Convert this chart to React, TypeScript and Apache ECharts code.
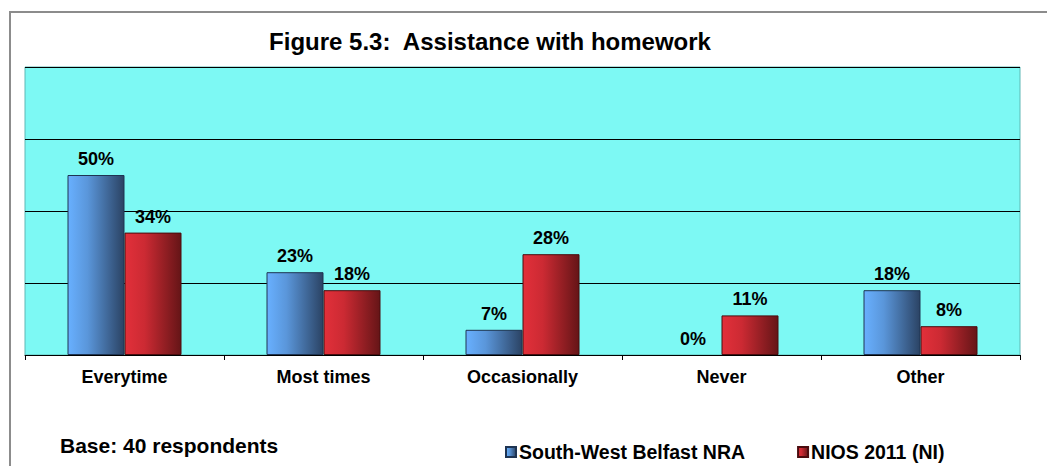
import React, { useEffect, useRef } from "react";
import * as echarts from "echarts";

const categories = ["Everytime", "Most times", "Occasionally", "Never", "Other"];
const swBelfast = [50, 23, 7, 0, 18];
const nios = [34, 18, 28, 11, 8];
const seriesNames = ["South-West Belfast NRA", "NIOS 2011 (NI)"];
const titleText = "Figure 5.3:  Assistance with homework";
const baseText = "Base: 40 respondents";

const FONT = "'Liberation Sans', Arial, sans-serif";

const toData = (arr: number[]) =>
  arr.map((v) => (v === 0 ? { value: v, itemStyle: { borderWidth: 0 } } : v));

export default function App() {
  const ref = useRef<HTMLDivElement>(null);
  useEffect(() => {
    document.body.style.margin = "0";
    const chart = echarts.init(ref.current!, null, { renderer: "svg" });
    const blue = new echarts.graphic.LinearGradient(0, 0, 1, 0, [
      { offset: 0, color: "#68B0FF" },
      { offset: 0.35, color: "#5A96DA" },
      { offset: 1, color: "#2B4364" },
    ]);
    const red = new echarts.graphic.LinearGradient(0, 0, 1, 0, [
      { offset: 0, color: "#E2303A" },
      { offset: 0.35, color: "#CC2A33" },
      { offset: 1, color: "#651517" },
    ]);
    const label = {
      show: true,
      position: "top" as const,
      distance: 7,
      formatter: "{c}%",
      fontFamily: FONT,
      fontWeight: "bold" as const,
      fontSize: 18,
      color: "#000",
    };
    chart.setOption({
      animation: false,
      backgroundColor: "#fff",
      title: {
        text: titleText,
        left: 490,
        textAlign: "center",
        top: 29,
        padding: 0,
        textStyle: { fontFamily: FONT, fontWeight: "bold", fontSize: 24, lineHeight: 24, color: "#000" },
      },
      graphic: [
        {
          type: "rect",
          shape: { x: 10, y: 12, width: 1100, height: 500 },
          style: { fill: "none", stroke: "#8C8C8C", lineWidth: 2 },
          z: -1,
        },
        {
          type: "text",
          left: 60,
          top: 435,
          style: { text: baseText, font: `bold 21px ${FONT}`, fill: "#000" },
        },
      ],
      legend: {
        left: 505,
        top: 442,
        padding: 0,
        itemWidth: 10,
        itemHeight: 10,
        itemGap: 52,
        icon: "rect",
        textStyle: { fontFamily: FONT, fontWeight: "bold", fontSize: 19.5, color: "#000", padding: [0, 0, 0, -2] },
        data: seriesNames,
      },
      grid: {
        left: 25,
        top: 67,
        width: 995,
        height: 288,
        show: true,
        backgroundColor: "#7DF9F4",
        borderColor: "#5FB8B5",
        borderWidth: 1,
      },
      xAxis: {
        type: "category",
        data: categories,
        axisLine: { lineStyle: { color: "#000", width: 1 } },
        axisTick: { show: true, length: 5, lineStyle: { color: "#000" } },
        axisLabel: {
          margin: 13,
          fontFamily: FONT,
          fontWeight: "bold",
          fontSize: 18,
          color: "#000",
        },
      },
      yAxis: {
        type: "value",
        min: 0,
        max: 80,
        interval: 20,
        axisLabel: { show: false },
        axisLine: { show: false },
        axisTick: { show: false },
        splitLine: { show: true, lineStyle: { color: "#000", width: 1 } },
      },
      series: [
        {
          name: seriesNames[0],
          type: "bar",
          data: toData(swBelfast),
          barWidth: 57,
          barGap: "0%",
          itemStyle: { color: blue, borderColor: "#1E3452", borderWidth: 1 },
          label,
        },
        {
          name: seriesNames[1],
          type: "bar",
          data: toData(nios),
          barWidth: 57,
          barGap: "0%",
          itemStyle: { color: red, borderColor: "#4A0C0E", borderWidth: 1 },
          label,
        },
      ],
    });
    return () => chart.dispose();
  }, []);
  return <div ref={ref} style={{ width: 1047, height: 466 }} />;
}
